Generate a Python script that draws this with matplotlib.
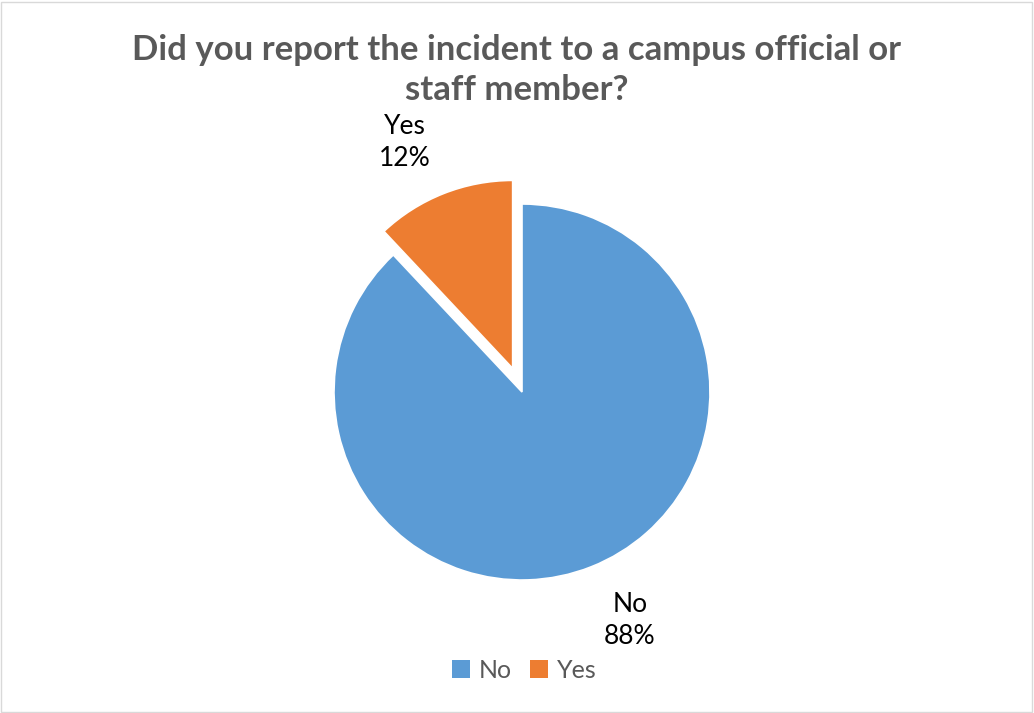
import numpy as np
import matplotlib.pyplot as plt
from matplotlib.patches import Patch, Rectangle

# survey answers
labels = ["No", "Yes"]
shares = [88, 12]
colors = ["#5B9BD5", "#ED7D31"]
explode_frac = [0, 0.135]

title = "Did you report the incident to a campus official or\nstaff member?"

plt.rcParams["font.family"] = ["Lato", "DejaVu Sans"]

R = 188
fig = plt.figure(figsize=(10.34, 7.13), dpi=100)
ax = fig.add_axes([0, 0, 1, 1])

# explode in matplotlib is in data units, so scale by radius
wedges, texts = ax.pie(
    shares,
    labels=[f"{l}\n{v}%" for l, v in zip(labels, shares)],
    colors=colors,
    explode=[e * R for e in explode_frac],
    startangle=90,
    counterclock=False,
    center=(522, 321),
    radius=R,
    labeldistance=1.36,
    wedgeprops=dict(edgecolor="white", linewidth=1.2),
    textprops=dict(fontsize=19, color="#000000"),
    frame=True,
)
ax.set_xlim(0, 1034)
ax.set_ylim(0, 713)
ax.axis("off")

# best-fit style label spots, pushed outside each slice
label_pos = {"No": (630, 92), "Yes": (405, 571)}
for t, l in zip(texts, labels):
    t.set_position(label_pos[l])
    t.set_ha("center")
    t.set_va("center")
    t.set_linespacing(1.35)

fig.text(0.5, 1 - 70 / 713, title, ha="center", va="center", fontsize=25,
         fontweight="bold", color="#595959", linespacing=1.3)

handles = [Patch(facecolor=c, edgecolor="none") for c in colors]
fig.legend(handles, labels, loc="center", bbox_to_anchor=(0.507, 1 - 670 / 713),
           ncol=2, frameon=False, fontsize=18, labelcolor="#595959",
           handlelength=0.75, handleheight=0.75, handletextpad=0.35, columnspacing=0.7)

# chart border
fig.patches.append(Rectangle((1 / 1034, 1 / 713), 1 - 3 / 1034, 1 - 3 / 713,
                             transform=fig.transFigure, fill=False,
                             edgecolor="#D9D9D9", linewidth=1))

fig.savefig("out.png", dpi=100)
